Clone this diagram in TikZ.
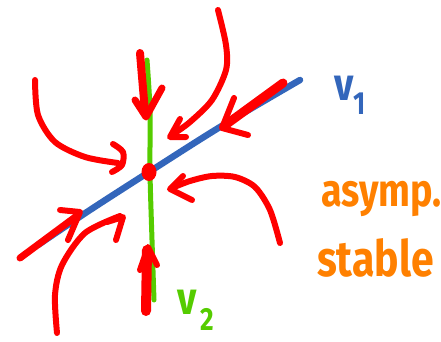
\documentclass[tikz,border=0pt]{standalone}
\usepackage{fontspec}
\setmainfont{Fira Sans}
\definecolor{penred}{RGB}{255,0,0}
\definecolor{penblue}{RGB}{51,102,187}
\definecolor{pengreen}{RGB}{85,204,0}
\definecolor{penorange}{RGB}{255,128,0}
\tikzset{
  pen/.style={line cap=round, line join=round},
  flow/.style={pen, draw=penred, line width=6pt},
  head/.style={pen, draw=penred, line width=6pt},
  scribble/.style={inner sep=0pt, anchor=base west, xscale=0.82, transform shape,
    font=\bfseries\fontsize{46}{46}\selectfont}
}
\newcommand\lowsub[2][12pt]{{\fontsize{32}{32}\selectfont\raisebox{-#1}{#2}}}
\begin{document}
\begin{tikzpicture}[x=1pt,y=-1pt]
\useasboundingbox (0,0) rectangle (441,342);
% eigen-directions
\draw[pen, draw=pengreen, line width=5pt] plot[smooth] coordinates {(147,60) (150,110) (150,172) (152,240) (154,300)};
\draw[pen, draw=penblue, line width=6.5pt] plot[smooth] coordinates {(38,245) (90,210) (149,172) (220,127) (300,80)};
% equilibrium
\fill[penred] (149,172) ellipse (7.5pt and 9pt);
% trajectories flowing in
% top, along v2
\draw[flow, line width=8pt] (140,53) -- (145,112);
\draw[head, line width=7pt] (135,100) -- (146,117) -- (162,88);
% bottom, along v2
\draw[flow, line width=10pt] (146,311) -- (147,250);
\draw[head] (140,270) -- (148,247) -- (157,265);
% upper right, along v1
\draw[flow, line width=9pt] (283,83) -- (224,126);
\draw[head] (234,98) -- (222,128) -- (248,135);
% lower left, along v1
\draw[flow, line width=7pt] (20,258) -- (78,215);
\draw[head] (60,210) -- (80,212) -- (68,240);
% long curve from the top
\draw[flow] plot[smooth] coordinates {(218,10) (226,45) (226,70) (212,100) (190,122) (172,135)};
\draw[head] (180,119) -- (170,137) -- (186,137);
% curve from the upper left
\draw[flow] plot[smooth] coordinates {(35,80) (38,115) (55,142) (85,157) (118,163)};
\draw[head] plot[smooth] coordinates {(113,144) (123,152) (122,165) (112,172)};
% curve from the right
\draw[flow] plot[smooth] coordinates {(280,243) (270,210) (255,187) (235,177) (212,176) (190,181) (172,188)};
\draw[head] (183,176) -- (170,189) -- (192,200);
% curve from the lower left
\draw[flow] plot[smooth] coordinates {(57,333) (55,295) (62,265) (85,233) (120,216)};
\draw[head] (107,222) -- (123,217) -- (116,240);
% labels
\node[scribble, text=penblue] (v1) at (334,100) {v\lowsub[14pt]{1}};
\node[scribble, text=pengreen] (v2) at (177,314) {v\hspace{5pt}\lowsub[16pt]{2}};
\node[scribble, text=penorange] (l1) at (321,206) {asymp.};
\node[scribble, text=penorange, font=\bfseries\fontsize{50}{50}\selectfont] (l2) at (317,276) {stable};
\end{tikzpicture}
\end{document}
